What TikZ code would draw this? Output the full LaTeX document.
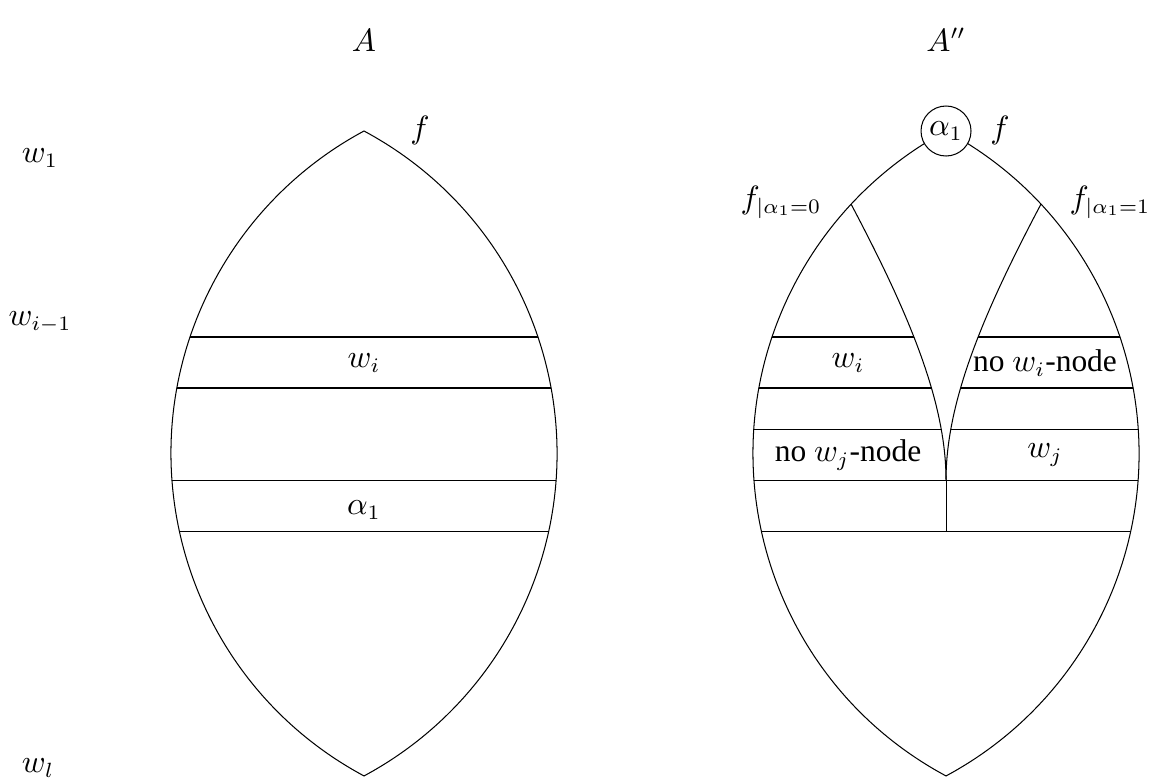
\documentclass[tikz,border=0pt]{standalone}
\usepackage{fontspec}
\setmainfont{Liberation Serif}
\usepackage{amsmath}
\usetikzlibrary{positioning}
% one lens: top cusp at (#1,650), bottom cusp at (#1,5)
\newcommand{\lenspath}[1]{(#1,650) arc[start angle=61.8,end angle=-61.8,radius=365.9]
  arc[start angle=241.8,end angle=118.2,radius=365.9] -- cycle}
\tikzset{
  lensline/.style={draw=black, line width=0.35pt},
  bandline/.style={draw=black, line width=0.35pt},
  lbl/.style={font=\fontsize{10.7}{12}\selectfont, inner sep=1pt},
  varnode/.style={circle, draw=black, fill=white, line width=0.35pt,
    minimum size=17pt, inner sep=0pt, font=\fontsize{10.7}{12}\selectfont}
}

\begin{document}
\begin{tikzpicture}[x=0.34pt, y=0.34pt]
  \useasboundingbox (0,0) rectangle (1158,781);

  % headings and the level labels on the left
  \node[lbl] (titleA) at (364,741) {$A$};
  \node[lbl] (titleB) at (946,741) {$A''$};
  \node[lbl] (lev1) at (40,623) {$w_1$};
  \node[lbl] (levim) at (40,459) {$w_{i-1}$};
  \node[lbl] (levl) at (38,13) {$w_l$};

  % left lens A
  \begin{scope}
    \clip \lenspath{364};
    \foreach \yy in {444,393,301,250}
      \draw[bandline] (150,\yy) -- (580,\yy);
  \end{scope}
  \draw[lensline] \lenspath{364};
  \node[lbl] (fA) at (420,651) {$f$};
  \node[lbl] (wiA) at (364,418) {$w_i$};
  \node[lbl] (aA) at (364,271) {$\alpha_1$};

  % right lens A''
  \coordinate (cuspL) at (851,577);
  \coordinate (cuspR) at (1041,577);
  \coordinate (meet) at (946,301);
  \coordinate (foot) at (946,250);
  \begin{scope}
    \clip \lenspath{946};
    \begin{scope}
      \clip (cuspL) .. controls (907,471) and (946,381) .. (meet) -- (946,200) -- (700,200) -- (700,577) -- cycle;
      \foreach \yy in {444,393,352}
        \draw[bandline] (700,\yy) -- (950,\yy);
    \end{scope}
    \begin{scope}
      \clip (cuspR) .. controls (985,471) and (946,381) .. (meet) -- (946,200) -- (1200,200) -- (1200,577) -- cycle;
      \foreach \yy in {444,393,352}
        \draw[bandline] (942,\yy) -- (1200,\yy);
    \end{scope}
    \foreach \yy in {301,250}
      \draw[bandline] (700,\yy) -- (1200,\yy);
  \end{scope}
  \draw[lensline] \lenspath{946};
  \draw[lensline] (cuspL) .. controls (907,471) and (946,381) .. (meet);
  \draw[lensline] (cuspR) .. controls (985,471) and (946,381) .. (meet);
  \draw[lensline] (meet) -- (foot);

  \node[varnode] (root) at (946,650) {$\alpha_1$};
  \node[lbl] (fB) at (1000,651) {$f$};
  \node[lbl] (f0) at (781,579) {$f_{|\alpha_1=0}$};
  \node[lbl] (f1) at (1110,579) {$f_{|\alpha_1=1}$};
  \node[lbl] (wiB) at (848,418) {$w_i$};
  \node[lbl] (nowi) at (1045,418) {no $w_i$-node};
  \node[lbl] (nowj) at (848,326) {no $w_j$-node};
  \node[lbl] (wjB) at (1045,326) {$w_j$};
\end{tikzpicture}
\end{document}
